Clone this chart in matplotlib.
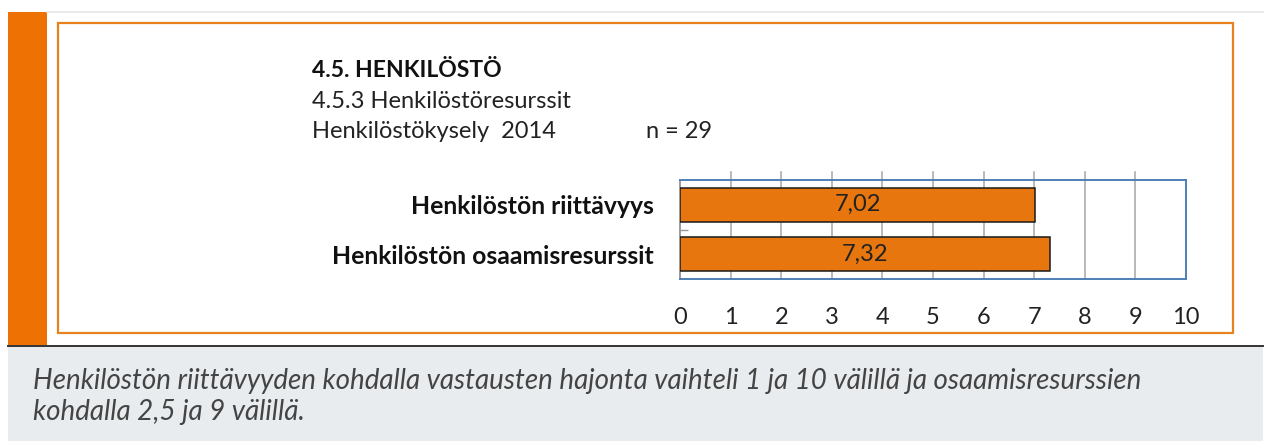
import matplotlib
matplotlib.use('Agg')
import matplotlib.pyplot as plt
import matplotlib.transforms as mtransforms
from matplotlib.patches import Rectangle
from matplotlib.lines import Line2D

# Data
categories = ['Henkilöstön riittävyys', 'Henkilöstön osaamisresurssit']
values = [7.02, 7.32]
value_labels = ['7,02', '7,32']
x_ticks = list(range(0, 11))

title = '4.5. HENKILÖSTÖ'
subtitle = '4.5.3 Henkilöstöresurssit'
survey = 'Henkilöstökysely  2014'
n_text = 'n = 29'
caption = ['Henkilöstön riittävyyden kohdalla vastausten hajonta vaihteli 1 ja 10 välillä ja osaamisresurssien',
           'kohdalla 2,5 ja 9 välillä.']

W, H = 1267, 441
plt.rcParams['font.family'] = ['Lato', 'DejaVu Sans']

fig = plt.figure(figsize=(W / 100, H / 100), dpi=100)
fig.patch.set_facecolor('white')


def fx(x):
    return x / W


def fy(y):
    return 1 - y / H


def rect(x0, y0, x1, y1, **kw):
    r = Rectangle((fx(x0), fy(y1)), fx(x1) - fx(x0), fy(y0) - fy(y1),
                  transform=fig.transFigure, **kw)
    fig.patches.append(r)


def hline(x0, x1, y, **kw):
    fig.lines.append(Line2D([fx(x0), fx(x1)], [fy(y), fy(y)],
                            transform=fig.transFigure, **kw))


# Page decoration
hline(47, 1263, 12, color='#e6e6e6', lw=1.2)
rect(8, 12, 47, 345, facecolor='#ee7203', edgecolor='none')
rect(8, 346, 1263, 441, facecolor='#e8ecef', edgecolor='none')
hline(8, 1263, 345.5, color='#333333', lw=1.4)
rect(58, 23, 1233, 333, facecolor='none', edgecolor='#e8821e', lw=1.6)

# Heading texts
fig.text(fx(312), fy(77), title, fontsize=16.5, fontweight='bold', color='#111111', va='baseline')
fig.text(fx(312), fy(108), subtitle, fontsize=17, color='#222222', va='baseline')
fig.text(fx(312), fy(138), survey, fontsize=17, color='#222222', va='baseline')
fig.text(fx(646), fy(138), n_text, fontsize=17, color='#222222', va='baseline')

# Caption
fig.text(fx(33), fy(389), caption[0], fontsize=20, style='italic',
         color='#444444', va='baseline')
fig.text(fx(33), fy(420), caption[1], fontsize=20, style='italic',
         color='#444444', va='baseline')

# Chart
ax = fig.add_axes([fx(680), fy(279), fx(1186) - fx(680), fy(180) - fy(279)])
ax.set_facecolor('white')
ypos = list(range(len(categories)))
ax.barh(ypos, values, height=0.69, color='#e8760f', edgecolor='#1a1a1a', linewidth=1.1, zorder=3)
for y, v, lab in zip(ypos, values, value_labels):
    ax.text(v / 2, y, lab, ha='center', va='center', fontsize=17, color='#222222', zorder=4)

ax.set_xlim(0, 10)
ax.set_ylim(len(categories) - 0.5, -0.5)
ax.set_xticks(x_ticks)
ax.set_xticklabels([str(t) for t in x_ticks])
ax.set_yticks(ypos)
ax.set_yticklabels(categories, fontweight='bold')
ax.set_yticks([0.5], minor=True)
ax.tick_params(axis='x', length=0, pad=20, labelsize=17, labelcolor='#222222')
ax.tick_params(axis='y', which='major', length=0, pad=19, labelsize=17.8, labelcolor='#111111')
ax.tick_params(axis='y', which='minor', length=6, direction='in', color='#999999', width=1)

# vertical grid lines (extend slightly above the frame)
trans = mtransforms.blended_transform_factory(ax.transData, ax.transAxes)
for t in x_ticks[1:-1]:
    ax.plot([t, t], [0, 1.08], transform=trans, color='#a6a6a6', lw=1.1, clip_on=False, zorder=1)

for s in ['top', 'right', 'bottom']:
    ax.spines[s].set_color('#4f7fb8')
    ax.spines[s].set_linewidth(1.4)
ax.spines['left'].set_color('#9a9a9a')
ax.spines['left'].set_linewidth(1.4)

fig.savefig('out.png', dpi=100)
